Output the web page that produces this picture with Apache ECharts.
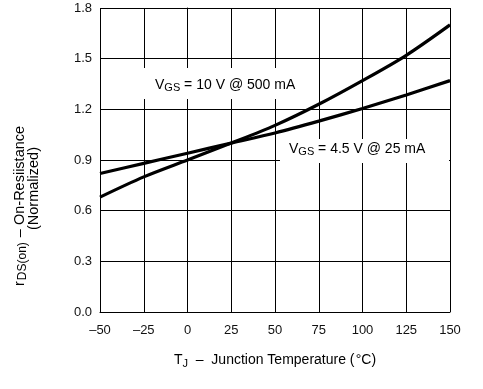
<!DOCTYPE html>
<html><head><meta charset="utf-8">
<script src="https://cdn.jsdelivr.net/npm/echarts@6/dist/echarts.min.js"></script>
<style>html,body{margin:0;padding:0;background:#fff}#c{width:483px;height:389px}</style>
</head><body><div id="c"></div>
<script>
const temps = [-50, -25, 0, 25, 50, 75, 100, 125, 150];
const vgs10 = [0.68, 0.80, 0.90, 1.00, 1.105, 1.23, 1.37, 1.52, 1.70];
const vgs45 = [0.82, 0.88, 0.94, 1.00, 1.06, 1.13, 1.205, 1.285, 1.37];
const xTicks = [-50, -25, 0, 25, 50, 75, 100, 125, 150];
const yTicks = [0.0, 0.3, 0.6, 0.9, 1.2, 1.5, 1.8];

const FONT = 'Liberation Sans, Arial, sans-serif';
const chart = echarts.init(document.getElementById('c'), null, {renderer: 'canvas'});
const rich14 = {
  n: {fontSize: 14, fontFamily: FONT, color: '#111'},
  s: {fontSize: 11, fontFamily: FONT, color: '#111', padding: [6, 0, 0, 0]}
};
const richY = {
  n: {fontSize: 14.5, fontFamily: FONT, color: '#111'},
  s: {fontSize: 12, fontFamily: FONT, color: '#111', padding: [7, 1, 0, 1]}
};
chart.setOption({
  animation: false,
  grid: {left: 100, right: 33, top: 8, bottom: 77},
  xAxis: {
    type: 'value', min: -50, max: 150, interval: 25,
    axisLine: {show: true, lineStyle: {color: '#000', width: 1}},
    axisTick: {show: false},
    axisLabel: {color: '#111', fontSize: 13, fontFamily: FONT, margin: 12,
      formatter: v => (v < 0 ? '\u2013' + Math.abs(v) : String(v))},
    splitLine: {show: true, lineStyle: {color: '#000', width: 1}}
  },
  yAxis: {
    type: 'value', min: 0, max: 1.8, interval: 0.3,
    axisLine: {show: true, lineStyle: {color: '#000', width: 1}},
    axisTick: {show: false},
    axisLabel: {color: '#111', fontSize: 13, fontFamily: FONT, margin: 8,
      formatter: v => v.toFixed(1)},
    splitLine: {show: true, lineStyle: {color: '#000', width: 1}}
  },
  series: [
    {type: 'line', data: temps.map((t, i) => [t, vgs10[i]]), smooth: 0.3, symbol: 'none',
     lineStyle: {color: '#000', width: 3.2}, z: 5},
    {type: 'line', data: temps.map((t, i) => [t, vgs45[i]]), smooth: 0.3, symbol: 'none',
     lineStyle: {color: '#000', width: 3.2}, z: 5}
  ],
  graphic: [
    {type: 'rect', z: 3, shape: {x: 140, y: 68, width: 165, height: 31}, style: {fill: '#fff'}},
    {type: 'text', z: 4, left: 155, top: 78,
     style: {text: '{n|V}{s|GS}{n| = 10 V @ 500 mA}', rich: rich14}},
    {type: 'rect', z: 3, shape: {x: 280, y: 139, width: 169, height: 24}, style: {fill: '#fff'}},
    {type: 'text', z: 4, left: 289, top: 142,
     style: {text: '{n|V}{s|GS}{n| = 4.5 V @ 25 mA}', rich: rich14}},
    {type: 'text', z: 4, x: 275, y: 352,
     style: {text: '{n|T}{s|J}{n|  \u2013  Junction Temperature (\u200a\u00b0C)}', rich: rich14, align: 'center'}},
    {type: 'text', z: 4, x: 10, y: 286, rotation: Math.PI / 2,
     style: {text: '{n|r}{s|DS(on)}{n| \u2013 On-Resiistance}', rich: richY}},
    {type: 'text', z: 4, x: 26, y: 230, rotation: Math.PI / 2,
     style: {text: '{n|(Normalized)}', rich: richY}}
  ]
});
</script></body></html>
